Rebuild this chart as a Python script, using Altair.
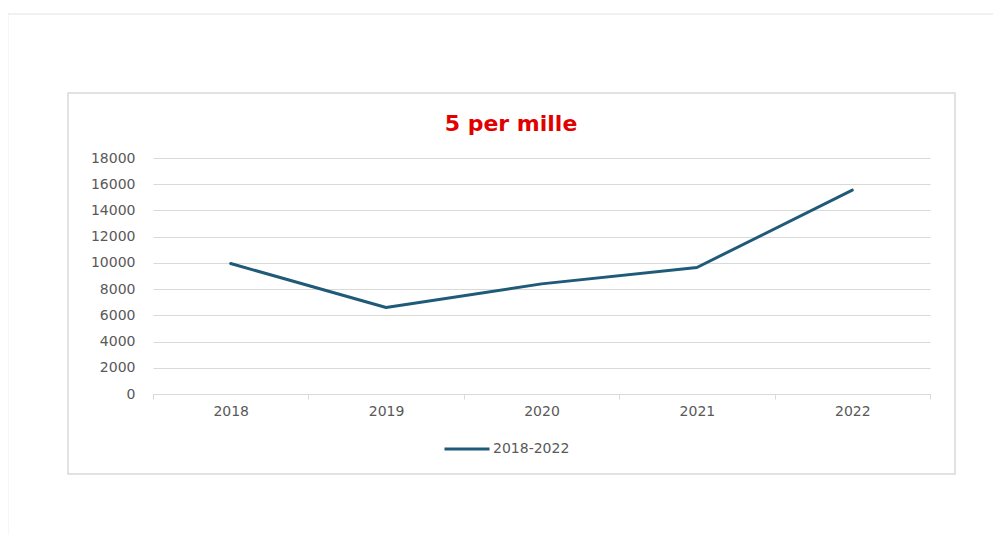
import altair as alt
import pandas as pd

years = ["2018", "2019", "2020", "2021", "2022"]
values = [9950, 6600, 8400, 9650, 15550]
series_name = "2018-2022"
title_text = "5 per mille"
y_ticks = [0, 2000, 4000, 6000, 8000, 10000, 12000, 14000, 16000, 18000]

df = pd.DataFrame({"anno": years, "valore": values, "serie": [series_name] * len(years)})
one = pd.DataFrame({"t": [title_text]})

FONT = "DejaVu Sans"
GRAY = "#d9d9d9"
LABEL = "#595959"
LINE = "#1f5a78"

line = alt.Chart(df).mark_line(strokeWidth=3, strokeCap="round", strokeJoin="round").encode(
    x=alt.X("anno:O", bandPosition=0.5,
            scale=alt.Scale(type="band", paddingInner=0, paddingOuter=0),
            axis=alt.Axis(title=None, labelAngle=0, grid=False, domainColor=GRAY,
                          tickColor=GRAY, tickSize=5, tickBand="extent",
                          labelPadding=5, labelFont=FONT, labelFontSize=14,
                          labelColor=LABEL)),
    y=alt.Y("valore:Q", scale=alt.Scale(domain=[0, 18000], nice=False),
            axis=alt.Axis(title=None, values=y_ticks, format="d", domain=False, ticks=False,
                          labelPadding=18, gridColor=GRAY, labelFont=FONT,
                          labelFontSize=14, labelColor=LABEL)),
    color=alt.Color("serie:N", scale=alt.Scale(range=[LINE]),
                    legend=alt.Legend(title=None, orient="none", legendX=290, legendY=267,
                                      symbolType="stroke", symbolStrokeWidth=3,
                                      symbolSize=2025, labelOffset=2, labelFont=FONT,
                                      labelFontSize=14, labelColor=LABEL)),
)

title = alt.Chart(one).mark_text(font=FONT, fontSize=22, fontWeight="bold", color="#e00000",
                                 align="center", baseline="middle").encode(
    text="t:N", x=alt.value(358), y=alt.value(-34)
)

# chart-area frame and page rules (decoration)
frame = alt.Chart(one).mark_rect(fill=None, stroke=GRAY, strokeWidth=1.5).encode(
    x=alt.value(-85), x2=alt.value(802), y=alt.value(-65), y2=alt.value(316)
)
hline = alt.Chart(one).mark_rule(color="#e3e3e3", strokeWidth=1).encode(
    x=alt.value(-145), x2=alt.value(840), y=alt.value(-144)
)
vline = alt.Chart(one).mark_rule(color="#eeeeee", strokeWidth=1).encode(
    x=alt.value(-145), y=alt.value(-144), y2=alt.value(377)
)

chart = alt.layer(hline, vline, frame, title, line).properties(
    width=777, height=236,
    padding={"left": 145, "top": 150, "right": 63, "bottom": 141},
    autosize=alt.AutoSizeParams(type="none"),
).configure_view(stroke=None)

chart.save("out.html", embed_options={"renderer": "svg", "actions": False})
